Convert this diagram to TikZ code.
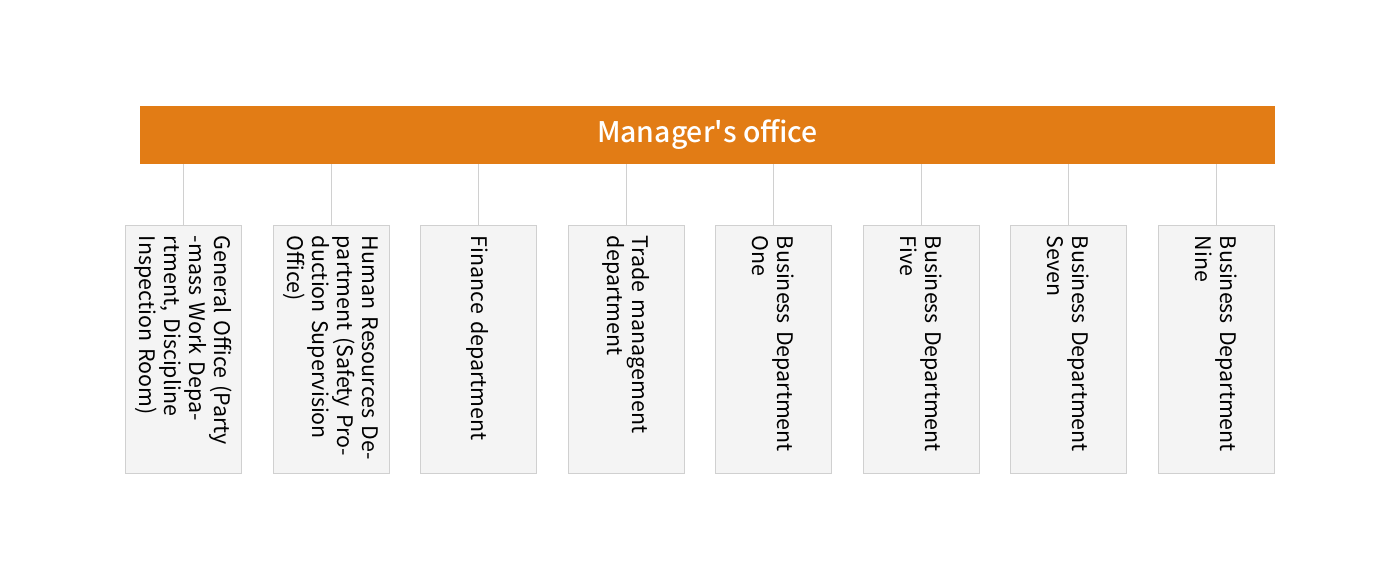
\documentclass[tikz,border=0pt]{standalone}
\usepackage{fontspec}
\setmainfont{Noto Sans CJK SC}
\newfontfamily\headfont{Noto Sans CJK SC Medium}
\usepackage{xcolor}
\usepackage{tikz}
\usetikzlibrary{positioning,calc}
\definecolor{headorange}{HTML}{E27C15}
\definecolor{boxgray}{HTML}{F4F4F4}
\definecolor{linegray}{HTML}{D0D0D0}
\tikzset{
  dept/.style={draw=linegray, fill=boxgray, rotate=-90, line width=0.8bp,
    text width=226bp, inner xsep=11bp, inner ysep=0bp, minimum height=116bp,
    align=left, font=\fontsize{21.5}{25}\selectfont},
  link/.style={draw=linegray, line width=0.8bp}
}

\begin{document}
\begin{tikzpicture}[x=1bp,y=1bp]
\useasboundingbox (0,0) rectangle (1400,580);
\node[fill=headorange, minimum width=1135bp, minimum height=58bp, inner sep=0pt,
  text=white, font=\headfont\fontsize{28.5}{30}\selectfont] (head) at (707.5,445) {Manager\textquotesingle s office};
\node[dept] (gen) at (183,231) {General Office (Party\\-mass Work Depa-\\rtment, Discipline\\Inspection Room)};
\node[dept] (hr) at (331,231) {Human Resources De-\\partment (Safety Pro-\\duction Supervision\\Office)};
\node[dept] (fin) at (478,231) {Finance department};
\node[dept] (trade) at (626,231) {Trade management\\department};
\node[dept] (bone) at (773,231) {Business Department\\One};
\node[dept] (bfive) at (921,231) {Business Department\\Five};
\node[dept] (bseven) at (1068,231) {Business Department\\Seven};
\node[dept] (bnine) at (1216,231) {Business Department\\Nine};
% connectors from the header down to each box
\draw[link] (head.south -| gen.west) -- (gen.west);
\draw[link] (head.south -| hr.west) -- (hr.west);
\draw[link] (head.south -| fin.west) -- (fin.west);
\draw[link] (head.south -| trade.west) -- (trade.west);
\draw[link] (head.south -| bone.west) -- (bone.west);
\draw[link] (head.south -| bfive.west) -- (bfive.west);
\draw[link] (head.south -| bseven.west) -- (bseven.west);
\draw[link] (head.south -| bnine.west) -- (bnine.west);
\end{tikzpicture}
\end{document}
